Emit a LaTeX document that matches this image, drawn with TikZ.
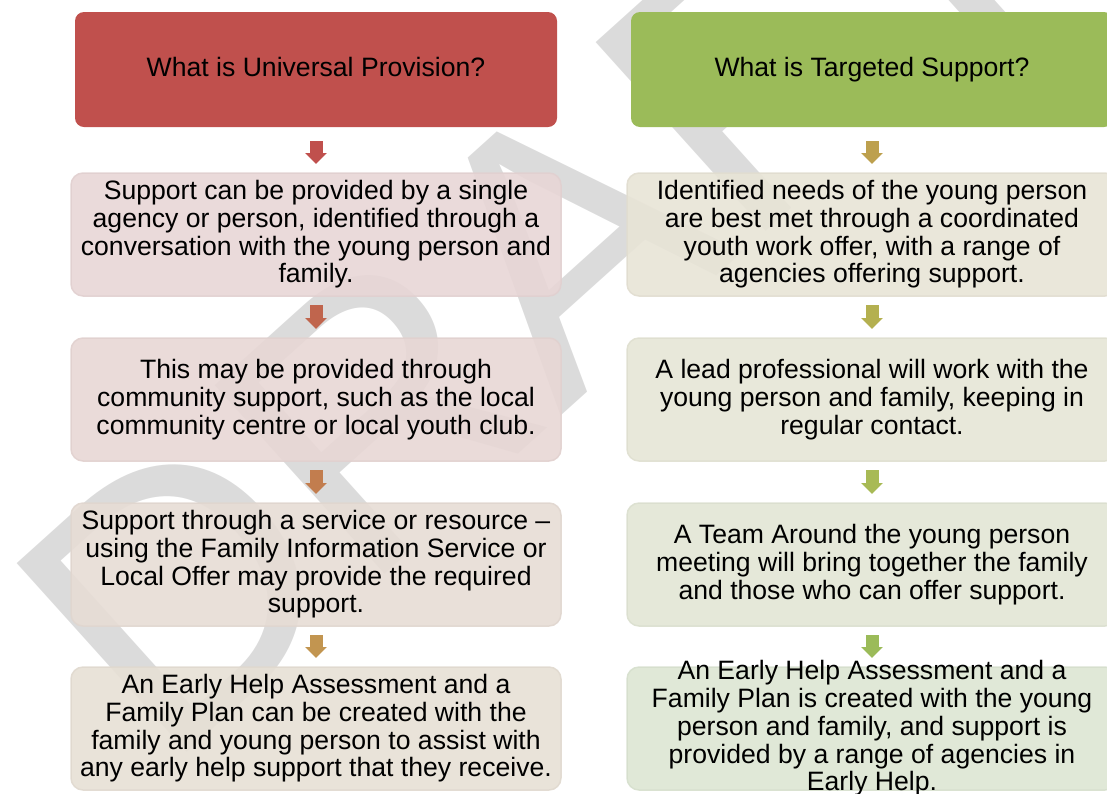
\documentclass[tikz,border=0pt]{standalone}
\usepackage{fontspec}
\setmainfont{Liberation Sans}
\usetikzlibrary{arrows.meta}

\definecolor{uphead}{RGB}{192,80,77}
\definecolor{tshead}{RGB}{155,187,89}
\definecolor{wmgray}{RGB}{219,219,219}
\definecolor{upfillA}{RGB}{232,214,214}
\definecolor{upfillB}{RGB}{232,215,213}
\definecolor{upfillC}{RGB}{231,221,213}
\definecolor{upfillD}{RGB}{231,224,213}
\definecolor{tsfillA}{RGB}{232,228,214}
\definecolor{tsfillB}{RGB}{230,230,214}
\definecolor{tsfillC}{RGB}{226,230,213}
\definecolor{tsfillD}{RGB}{221,230,211}
\definecolor{uparrA}{RGB}{192,80,77}
\definecolor{uparrB}{RGB}{192,101,77}
\definecolor{uparrC}{RGB}{194,125,78}
\definecolor{uparrD}{RGB}{194,149,80}
\definecolor{tsarrA}{RGB}{189,160,78}
\definecolor{tsarrB}{RGB}{180,176,80}
\definecolor{tsarrC}{RGB}{168,186,85}
\definecolor{tsarrD}{RGB}{155,187,89}

\tikzset{
  headbox/.style={fill=#1, rounded corners=9, minimum width=482, minimum height=115,
    inner sep=0, outer sep=0, text height=19.5, text depth=5.5,
    font=\fontsize{26.6}{27.7}\selectfont},
  cell/.style={fill=#1, draw=#1!97!black, line width=1.5, fill opacity=0.9,
    draw opacity=0.9, text opacity=1, rounded corners=12, minimum width=490,
    minimum height=123, inner sep=0, outer sep=0, align=center,
    font=\fontsize{26.6}{27.7}\selectfont},
  flow/.style={draw=#1, line width=13, -{Triangle[width=21pt,length=11pt]},
    shorten <=9, shorten >=9},
  wmark/.style={text=wmgray, inner sep=0, font=\fontsize{369}{369}\selectfont}
}

\begin{document}
\begin{tikzpicture}[x=1pt,y=-1pt]
\useasboundingbox (0,0) rectangle (1107,793);
% watermark
\node[wmark, anchor=base west, rotate=42] (wm) at (164,773) {DRAFT};
% universal provision
\node[headbox=uphead] (u0) at (316,69.5) {What is Universal Provision?};
\node[cell=upfillA] (u1) at (316,234.5) {Support can be provided by a single\\agency or person, identified through a\\conversation with the young person and\\family.};
\node[cell=upfillB] (u2) at (316,399.5) {This may be provided through\\community support, such as the local\\community centre or local youth club.};
\node[cell=upfillC] (u3) at (316,564.5) {Support through a service or resource --\\using the Family Information Service or\\Local Offer may provide the required\\support.};
\node[cell=upfillD] (u4) at (316,728.5) {An Early Help Assessment and a\\Family Plan can be created with the\\family and young person to assist with\\any early help support that they receive.};
% targeted support
\node[headbox=tshead] (t0) at (872,69.5) {What is Targeted Support?};
\node[cell=tsfillA] (t1) at (872,234.5) {Identified needs of the young person\\are best met through a coordinated\\youth work offer, with a range of\\agencies offering support.};
\node[cell=tsfillB] (t2) at (872,399.5) {A lead professional will work with the\\young person and family, keeping in\\regular contact.};
\node[cell=tsfillC] (t3) at (872,564.5) {A Team Around the young person\\meeting will bring together the family\\and those who can offer support.};
\node[cell=tsfillD, inner ysep=-8] (t4) at (872,728.5) {An Early Help Assessment and a\\Family Plan is created with the young\\person and family, and support is\\provided by a range of agencies in\\Early Help.};
% arrows
\draw[flow=uparrA, shorten <=14] (u0) -- (u1);
\draw[flow=uparrB] (u1) -- (u2);
\draw[flow=uparrC] (u2) -- (u3);
\draw[flow=uparrD] (u3) -- (u4);
\draw[flow=tsarrA, shorten <=14] (t0) -- (t1);
\draw[flow=tsarrB] (t1) -- (t2);
\draw[flow=tsarrC] (t2) -- (t3);
\draw[flow=tsarrD] (t3) -- (t4);
\end{tikzpicture}
\end{document}
